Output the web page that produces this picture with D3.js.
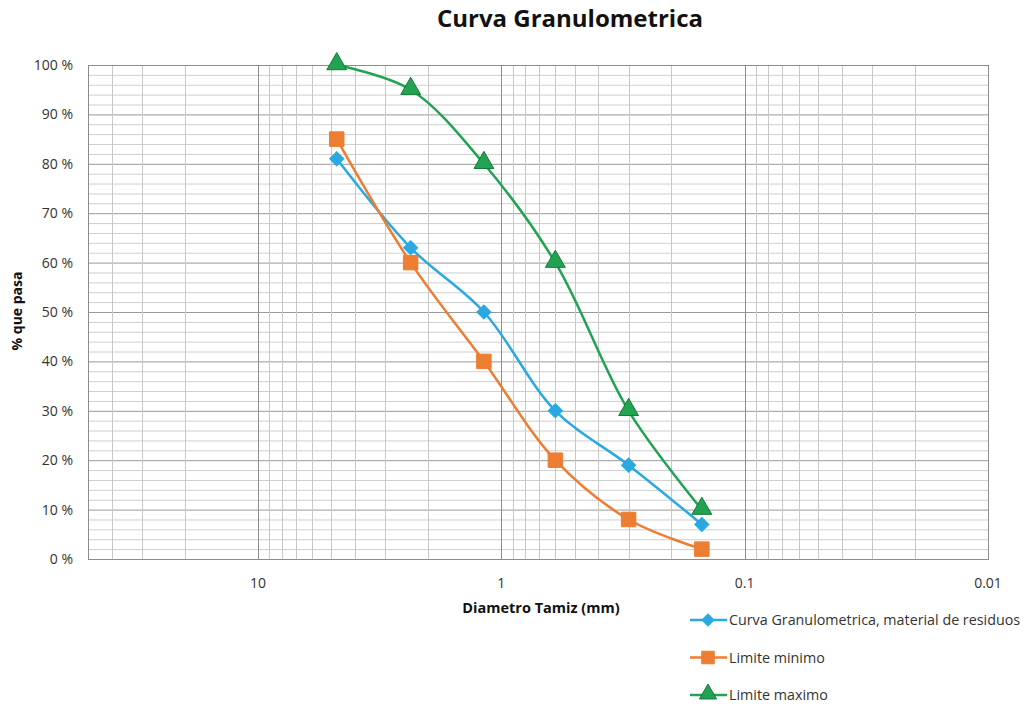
<!DOCTYPE html>
<html>
<head>
<meta charset="utf-8">
<script src="https://cdn.jsdelivr.net/npm/d3@7"></script>
<style>
  body { margin: 0; background: #fff; }
  svg text { font-family: "Open Sans", "Noto Sans", sans-serif; fill: #333; }
</style>
</head>
<body>
<div id="chart"></div>
<script>
// sieve sizes (mm) and % passing for each series
var sieveSizes = [4.75, 2.36, 1.18, 0.6, 0.3, 0.15];
var curvaValues = [81, 63, 50, 30, 19, 7];
var minimoValues = [85, 60, 40, 20, 8, 2];
var maximoValues = [100, 95, 80, 60, 30, 10];
var seriesNames = ["Curva Granulometrica, material de residuos", "Limite minimo", "Limite maximo"];
var xTickValues = [10, 1, 0.1, 0.01];
var yTickValues = [0, 10, 20, 30, 40, 50, 60, 70, 80, 90, 100];

var width = 1027, height = 706;
var margin = { top: 65, right: 39, bottom: 147, left: 88 };

var svg = d3.select("#chart").append("svg")
  .attr("width", width)
  .attr("height", height);

var x = d3.scaleLog().domain([50, 0.01]).range([margin.left, width - margin.right]);
var y = d3.scaleLinear().domain([0, 100]).range([height - margin.bottom, margin.top]);

var colors = ["#29a9e0", "#ed7d31", "#21a352"];

// horizontal grid, every 2 %
var hLines = d3.range(0, 101, 2);
svg.append("g").selectAll("line")
  .data(hLines)
  .enter().append("line")
  .attr("x1", x.range()[0]).attr("x2", x.range()[1])
  .attr("y1", d => y(d) + 0.5).attr("y2", d => y(d) + 0.5)
  .attr("stroke", d => d % 10 === 0 ? "#9a9a9a" : "#cfcfcf")
  .attr("stroke-width", 1);

// vertical grid, log minor lines (only inside the 50 .. 0.01 domain)
var vLines = [];
[0.01, 0.1, 1, 10].forEach(function (p) {
  for (var k = 1; k <= 9; k++) {
    if (k * p <= 50) vLines.push({ v: k * p, major: k === 1 });
  }
});
svg.append("g").selectAll("line")
  .data(vLines)
  .enter().append("line")
  .attr("x1", d => Math.round(x(d.v)) + 0.5).attr("x2", d => Math.round(x(d.v)) + 0.5)
  .attr("y1", y(100)).attr("y2", y(0))
  .attr("stroke", d => d.major ? "#8c8c8c" : "#c8c8c8")
  .attr("stroke-width", 1);

// plot border
svg.append("rect")
  .attr("x", x.range()[0] + 0.5).attr("y", y(100) + 0.5)
  .attr("width", x.range()[1] - x.range()[0]).attr("height", y(0) - y(100))
  .attr("fill", "none").attr("stroke", "#8c8c8c");

// y tick labels
svg.append("g").selectAll("text")
  .data(yTickValues)
  .enter().append("text")
  .attr("x", 73).attr("y", d => y(d) + 5)
  .attr("text-anchor", "end")
  .style("font-size", "14px")
  .text(d => d + " %");

// x tick labels
svg.append("g").selectAll("text")
  .data(xTickValues)
  .enter().append("text")
  .attr("x", d => x(d)).attr("y", 588)
  .attr("text-anchor", "middle")
  .style("font-size", "14px")
  .text(d => d);

// title and axis labels
svg.append("text")
  .attr("x", 570).attr("y", 27)
  .attr("text-anchor", "middle")
  .style("font-size", "24px").style("font-weight", "bold").style("fill", "#111")
  .text("Curva Granulometrica");

svg.append("text")
  .attr("x", 541).attr("y", 613)
  .attr("text-anchor", "middle")
  .style("font-size", "14.5px").style("font-weight", "bold").style("fill", "#111")
  .text("Diametro Tamiz (mm)");

svg.append("text")
  .attr("transform", "translate(22," + 311 + ") rotate(-90)")
  .attr("text-anchor", "middle")
  .style("font-size", "14px").style("font-weight", "bold").style("fill", "#111")
  .text("% que pasa");

var seriesData = [curvaValues, minimoValues, maximoValues].map(function (vals, i) {
  return { name: seriesNames[i], color: colors[i], points: vals.map((v, j) => ({ size: sieveSizes[j], value: v })) };
});

var line = d3.line()
  .x(d => x(d.size))
  .y(d => y(d.value))
  .curve(d3.curveCatmullRom.alpha(0.5));

// diamond = rotated square
var symbols = [d3.symbolSquare, d3.symbolSquare, d3.symbolTriangle];
var symbolSizes = [100, 210, 170];
var rotations = [45, 0, 0];
var strokeColors = ["#29a9e0", "#ed7d31", "#137a38"];

var groups = svg.append("g").selectAll("g")
  .data(seriesData)
  .enter().append("g");

groups.append("path")
  .attr("d", d => line(d.points))
  .attr("fill", "none")
  .attr("stroke", d => d.color)
  .attr("stroke-width", 2.5);

groups.each(function (s, i) {
  d3.select(this).selectAll("path.mark")
    .data(s.points)
    .enter().append("path")
    .attr("class", "mark")
    .attr("d", d3.symbol().type(symbols[i]).size(symbolSizes[i]))
    .attr("transform", d => "translate(" + x(d.size) + "," + (y(d.value) - (i === 2 ? 1 : 0)) + ") rotate(" + rotations[i] + ")")
    .attr("fill", s.color)
    .attr("stroke", strokeColors[i])
    .attr("stroke-width", 1);
});

// legend
var legend = svg.append("g").selectAll("g")
  .data(seriesData)
  .enter().append("g")
  .attr("transform", (d, i) => "translate(690," + (620 + i * 37.5) + ")");

legend.append("line")
  .attr("x1", 0).attr("x2", 37)
  .attr("stroke", d => d.color).attr("stroke-width", 2.5);

legend.append("path")
  .attr("d", (d, i) => d3.symbol().type(symbols[i]).size(symbolSizes[i] * 0.75)())
  .attr("transform", (d, i) => "translate(18," + (i === 2 ? -1 : 0) + ") rotate(" + rotations[i] + ")")
  .attr("fill", d => d.color)
  .attr("stroke", (d, i) => strokeColors[i]);

legend.append("text")
  .attr("x", 39).attr("y", 5)
  .style("font-size", "14.3px")
  .text(d => d.name);
</script>
</body>
</html>
